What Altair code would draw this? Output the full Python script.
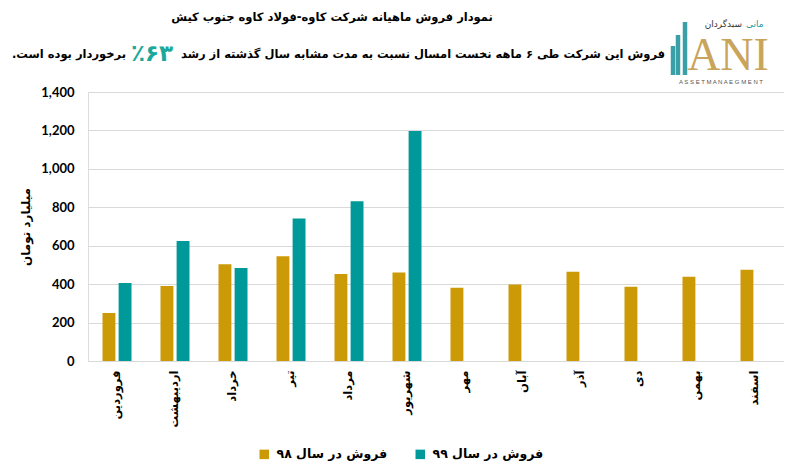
import altair as alt
import pandas as pd

months = ["فروردین", "اردیبهشت", "خرداد", "تیر", "مرداد", "شهریور",
          "مهر", "آبان", "آذر", "دی", "بهمن", "اسفند"]
series = ["فروش در سال ۹۸", "فروش در سال ۹۹"]
sales98 = [250, 390, 503, 545, 453, 461, 381, 398, 464, 386, 438, 475]
sales99 = [406, 624, 484, 742, 832, 1197]
y_ticks = [0, 200, 400, 600, 800, 1000, 1200, 1400]
colors = ["#CC9A06", "#00999A"]

title_text = "نمودار فروش ماهیانه شرکت کاوه-فولاد کاوه جنوب کیش"
sub_right = "فروش این شرکت طی ۶ ماهه نخست امسال نسبت به مدت مشابه سال گذشته از رشد"
sub_mid = "٪۶۳"
sub_left = "برخوردار بوده است.\u200f"
y_title = "میلیارد تومان"

rows = []
for m, v in zip(months, sales98):
    rows.append({"month": m, "series": series[0], "value": v})
for m, v in zip(months, sales99):
    rows.append({"month": m, "series": series[1], "value": v})
df = pd.DataFrame(rows)

FA = "DejaVu Sans"

bars = alt.Chart(df).mark_bar().encode(
    x=alt.X("month:N", sort=months,
            scale=alt.Scale(paddingInner=0.5, paddingOuter=0.25),
            axis=alt.Axis(title=None, labelAngle=270, labelAlign="right",
                          labelBaseline="middle", labelFont=FA, labelFontSize=11.5,
                          labelFontWeight="bold", labelColor="#000000",
                          labelPadding=9, ticks=False, grid=False,
                          domainColor="#d9d9d9", domainWidth=1)),
    xOffset=alt.XOffset("series:N", sort=series,
                        scale=alt.Scale(paddingInner=0.2)),
    y=alt.Y("value:Q",
            scale=alt.Scale(domain=[0, 1400], nice=False),
            axis=alt.Axis(title=y_title, values=y_ticks, format=",.0f",
                          labelFont="Lato", labelFontSize=13, labelFontWeight="bold",
                          labelColor="#000000", labelPadding=14, ticks=False,
                          domain=False, grid=True, gridColor="#d9d9d9",
                          titleFont=FA, titleFontSize=12, titleFontWeight="bold",
                          titleColor="#000000", titlePadding=8)),
    color=alt.Color("series:N", sort=series,
                    scale=alt.Scale(domain=series, range=colors),
                    legend=alt.Legend(title=None, orient="none", direction="horizontal",
                                      legendX=170, legendY=356,
                                      symbolType="square", symbolSize=90,
                                      symbolStrokeWidth=0,
                                      labelFont=FA, labelFontSize=12.5,
                                      labelFontWeight="bold", labelColor="#000000",
                                      columnPadding=26, labelOffset=6)),
)

def text_layer(txt, x, y, size, color="#000000", align="center", weight="bold",
               font=FA):
    return alt.Chart(pd.DataFrame({"t": [txt]})).mark_text(
        align=align, baseline="middle", fontSize=size, fontWeight=weight,
        font=font, color=color
    ).encode(text="t:N", x=alt.value(x), y=alt.value(y))

title = text_layer(title_text, 244, -74, 11.5)
s_mid = text_layer(sub_mid, 64, -38, 23, color="#1aa89a")
s_right = text_layer(sub_right, 93, -37, 11.5, align="left")
s_left = text_layer(sub_left, 38, -37, 11.5, align="right")

# logo
logo_x = [585, 590, 597]
logo_top = [-46, -57, -70]
logo_bars = []
for xv, yv in zip(logo_x, logo_top):
    logo_bars.append(
        alt.Chart(pd.DataFrame({"a": [0]})).mark_rule(strokeWidth=4.5, color="#3a9fa6")
        .encode(x=alt.value(xv), y=alt.value(yv), y2=alt.value(-17))
    )
logo_ani = text_layer("ANI", 640, -36, 46, color="#c9a55c", weight="normal",
                      font="Liberation Serif")
logo_en = text_layer("A S S E T M A N A E G M E N T", 633, -10, 6, color="#555555",
                     weight="normal", font="Liberation Sans")
logo_fa = text_layer("سبدگردان", 654, -68, 9, color="#333333", weight="normal",
                     align="right")
logo_fa2 = text_layer("مانی", 658, -68, 9, color="#1a9aa0", weight="normal",
                      align="left")

chart = alt.layer(bars, title, s_mid, s_right, s_left, *logo_bars,
                  logo_ani, logo_en, logo_fa, logo_fa2).properties(
    width=696, height=269,
    autosize=alt.AutoSizeParams(type="none"),
    padding={"left": 80, "top": 84, "right": 0, "bottom": 105},
).configure_view(stroke=None).configure(background="#ffffff")

chart.save("out.html", embed_options={"renderer": "svg", "actions": False})
